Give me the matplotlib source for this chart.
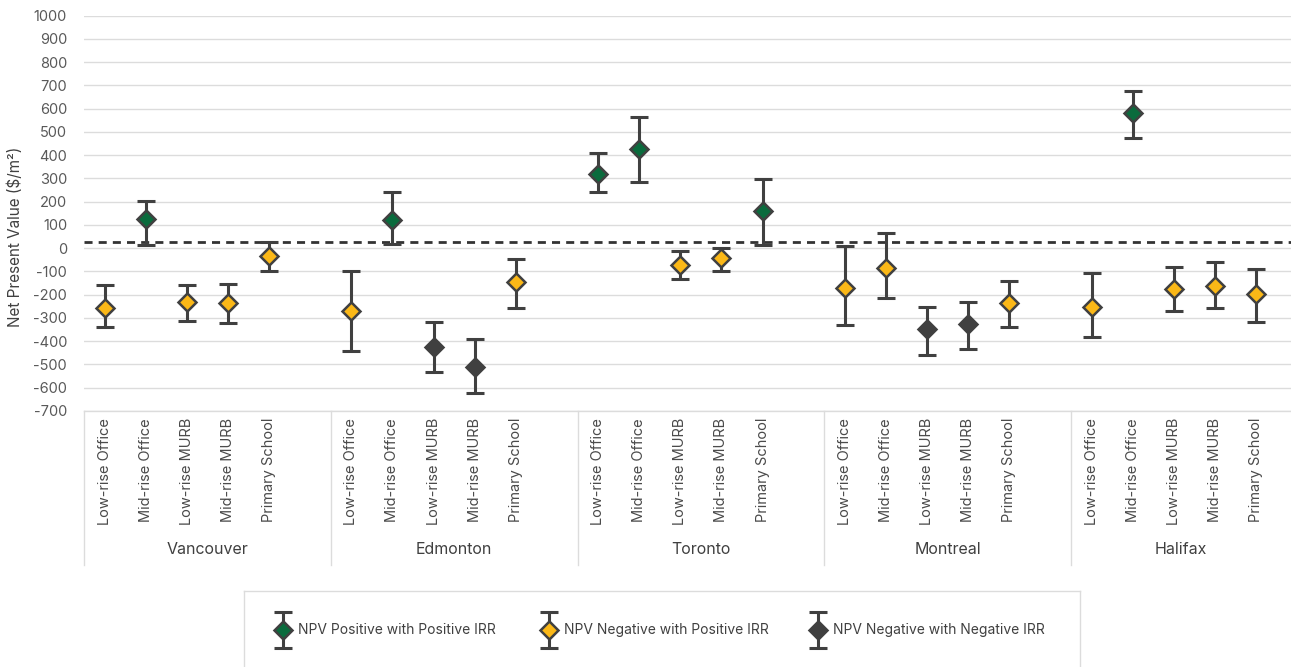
import matplotlib
matplotlib.use("Agg")
import matplotlib.pyplot as plt

plt.rcParams["font.family"] = ["Inter", "DejaVu Sans"]

# ---- data -------------------------------------------------------------
cities = ["Vancouver", "Edmonton", "Toronto", "Montreal", "Halifax"]
building_types = ["Low-rise Office", "Mid-rise Office", "Low-rise MURB",
                  "Mid-rise MURB", "Primary School"]

# Net present value ($/m²): central estimate, upper and lower bound,
# listed city by city, building type within each city
npv_mid = [-258, 125, -232, -234, -33,
           -272, 122, -423, -509, -146,
           320, 428, -71, -43, 161,
           -169, -86, -347, -325, -236,
           -251, 581, -175, -162, -197]
npv_high = [-158, 204, -158, -153, 26,
            -97, 241, -318, -390, -46,
            411, 565, -11, 3, 297,
            10, 65, -251, -232, -143,
            -107, 678, -79, -61, -90]
npv_low = [-337, 12, -315, -320, -100,
           -441, 18, -533, -623, -258,
           243, 283, -133, -100, 16,
           -330, -215, -459, -434, -339,
           -382, 473, -268, -259, -318]
outcome = ["neg_pos", "pos_pos", "neg_pos", "neg_pos", "neg_pos",
           "neg_pos", "pos_pos", "neg_neg", "neg_neg", "neg_pos",
           "pos_pos", "pos_pos", "neg_pos", "neg_pos", "pos_pos",
           "neg_pos", "neg_pos", "neg_neg", "neg_neg", "neg_pos",
           "neg_pos", "pos_pos", "neg_pos", "neg_pos", "neg_pos"]

outcome_order = ["pos_pos", "neg_pos", "neg_neg"]
outcome_labels = ["NPV Positive with Positive IRR",
                  "NPV Negative with Positive IRR",
                  "NPV Negative with Negative IRR"]
outcome_colors = ["#0A6B3D", "#FBB817", "#404040"]

reference_npv = 26
y_ticks = list(range(-700, 1001, 100))

# ---- layout -----------------------------------------------------------
W, H = 1291, 667
fig = plt.figure(figsize=(W / 100, H / 100), dpi=100)
fig.patch.set_facecolor("white")

ax_left, ax_right, ax_top, ax_bottom = 84, 1291, 15.7, 411
ax = fig.add_axes([ax_left / W, 1 - ax_bottom / H,
                   (ax_right - ax_left) / W, (ax_bottom - ax_top) / H])

slots_per_city = len(building_types) + 1      # one blank slot after each city
slot_px = 41.125
x_max = -0.5 + (ax_right - ax_left) / slot_px
ax.set_xlim(-0.5, x_max)
ax.set_ylim(-700, 1000)

edge = "#404040"
grid_col = "#dcdcdc"
text_col = "#595959"

ax.set_yticks(y_ticks)
ax.set_yticklabels([str(v) for v in y_ticks])
ax.tick_params(axis="y", length=0, pad=12.2, labelsize=10.5, labelcolor=text_col)
ax.set_xticks([])
ax.yaxis.grid(True, color=grid_col, lw=1.0)
ax.set_axisbelow(True)
for side in ("left", "right", "top"):
    ax.spines[side].set_visible(False)
ax.spines["bottom"].set_color(grid_col)
ax.spines["bottom"].set_linewidth(1.0)

# dashed reference line
ax.axhline(reference_npv, color="#333333", lw=2.0, ls=(0, (2.9, 2.2)), zorder=2)

# positions of each building type on the category axis
xpos = [ci * slots_per_city + ti
        for ci in range(len(cities)) for ti in range(len(building_types))]

for key, color in zip(outcome_order, outcome_colors):
    idx = [i for i, o in enumerate(outcome) if o == key]
    xs = [xpos[i] for i in idx]
    mids = [npv_mid[i] for i in idx]
    lo = [npv_mid[i] - npv_low[i] for i in idx]
    hi = [npv_high[i] - npv_mid[i] for i in idx]
    ax.errorbar(xs, mids, yerr=[lo, hi], fmt="none", ecolor=edge,
                elinewidth=2.2, capsize=6.8, capthick=2.2, zorder=3)
    ax.plot(xs, mids, ls="none", marker="D", ms=9.6, mfc=color,
            mec=edge, mew=1.8, zorder=4)

# multi-level category axis: building types, then cities
xform = ax.get_xaxis_transform()
for x, ti in zip(xpos, [t for _ in cities for t in range(len(building_types))]):
    ax.annotate(building_types[ti], xy=(x, 0), xycoords=xform,
                xytext=(0, -5), textcoords="offset points",
                rotation=90, ha="center", va="top", fontsize=10.5,
                color="#4a4a4a", annotation_clip=False)

sep_depth = (565 - ax_bottom) / (ax_bottom - ax_top)
for ci, city in enumerate(cities):
    start = ci * slots_per_city - 0.5
    end = min(start + slots_per_city, x_max)
    ax.plot([start, start], [0, -sep_depth], transform=xform, color=grid_col,
            lw=1.0, clip_on=False)
    ax.annotate(city, xy=((start + end) / 2, 0), xycoords=xform,
                xytext=(0, -(549 - ax_bottom) * 0.72), textcoords="offset points",
                ha="center", va="center", fontsize=11.5, color="#404040",
                annotation_clip=False)

fig.text(15 / W, 1 - 237 / H, "Net Present Value ($/m²)", rotation=90,
         ha="center", va="center", fontsize=11, color="#404040")

# ---- legend box -------------------------------------------------------
lg_left, lg_right, lg_top = 244, 1080, 591
lax = fig.add_axes([lg_left / W, 0, (lg_right - lg_left) / W, (H - lg_top) / H])
lax.set_xlim(lg_left, lg_right)
lax.set_ylim(H, lg_top)
lax.set_xticks([])
lax.set_yticks([])
for side, sp in lax.spines.items():
    sp.set_color(grid_col)
    sp.set_linewidth(1.0)
lax.spines["bottom"].set_visible(False)

legend_marker_x = [283, 549, 818]
legend_y = 630
for mx, label, color in zip(legend_marker_x, outcome_labels, outcome_colors):
    lax.errorbar([mx], [legend_y], yerr=[[18], [18]], fmt="none", ecolor=edge,
                 elinewidth=2.2, capsize=6.8, capthick=2.2)
    lax.plot([mx], [legend_y], ls="none", marker="D", ms=9.6, mfc=color,
             mec=edge, mew=1.8)
    lax.text(mx + 15, legend_y, label, ha="left", va="center", fontsize=10,
             color="#404040")

fig.savefig("out.png", dpi=100, facecolor="white")
